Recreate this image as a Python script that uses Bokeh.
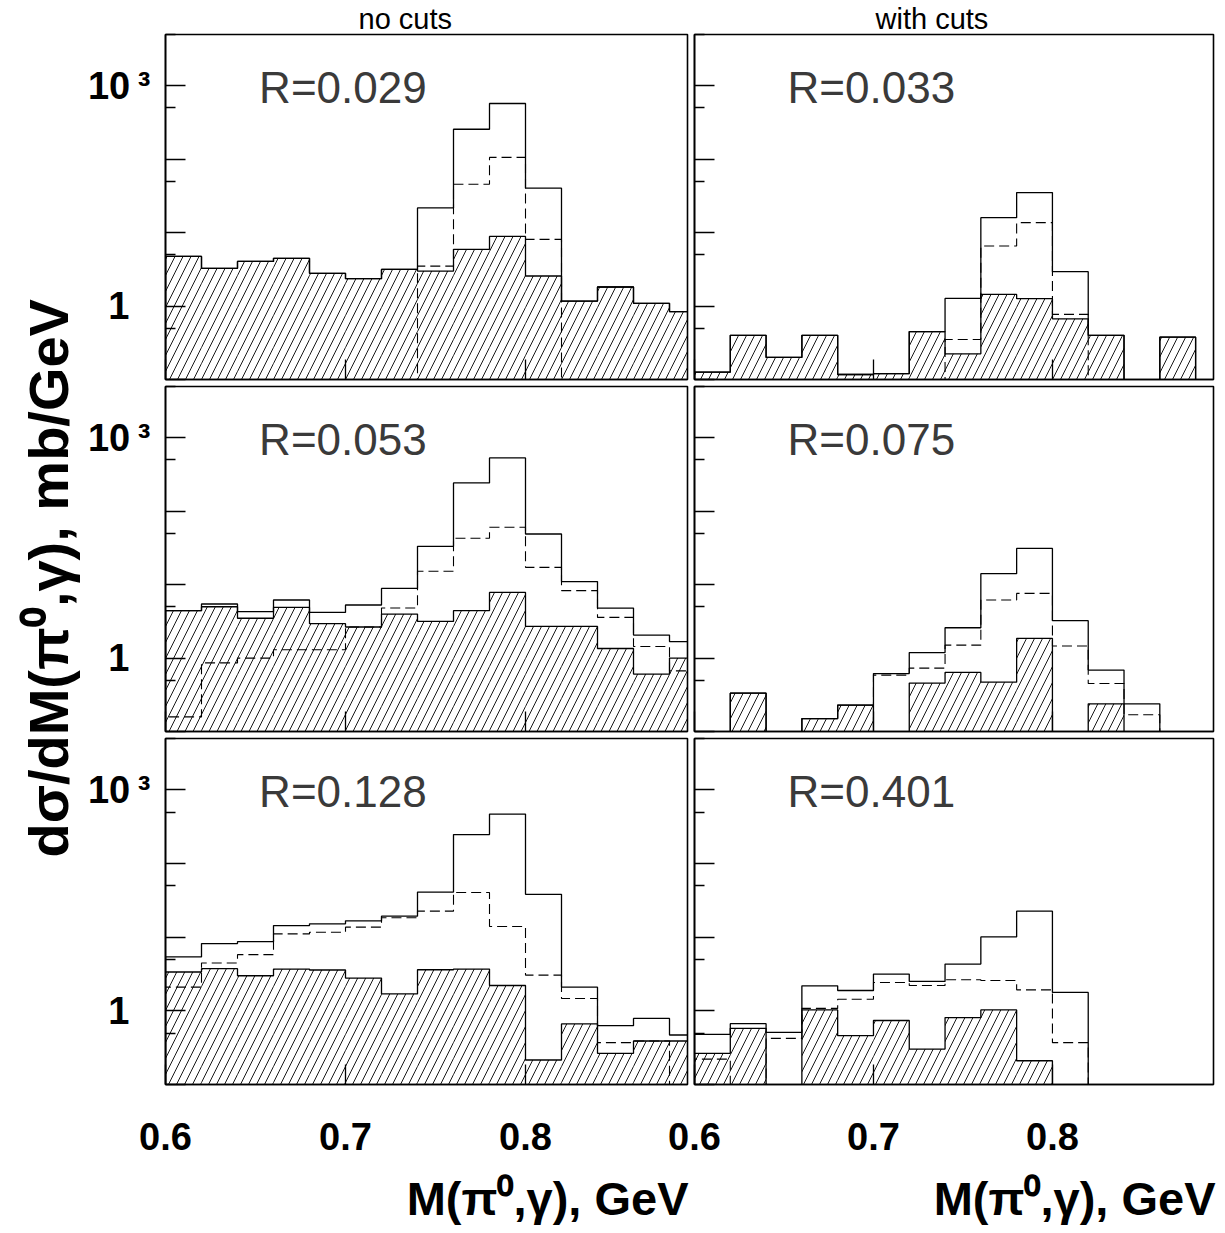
import math
from bokeh.plotting import figure
from bokeh.layouts import row as brow, column as bcol
from bokeh.models import FixedTicker, Label, Range1d, CustomLabelingPolicy
from bokeh.embed import file_html
from bokeh.resources import INLINE

# ---------------- data ----------------
bin_edges = [0.60, 0.62, 0.64, 0.66, 0.68, 0.70, 0.72, 0.74, 0.76, 0.78,
             0.80, 0.82, 0.84, 0.86, 0.88, 0.90]

x_ticks = [0.6, 0.7, 0.8]
y_ticks = [0.1, 1, 10, 100, 1000]
y_minor_ticks = [0.5, 5, 50, 500, 5000]
y_tick_labels = {0.1: ".", 1: "1\u00a0\u00a0", 10: ".", 100: ".", 1000: "10\u2009\u00b3"}
y_labelled_ticks = [1, 4]          # indices into y_ticks that carry a label

column_titles = ["no cuts", "with cuts"]
r_labels = [["R=0.029", "R=0.033"], ["R=0.053", "R=0.075"], ["R=0.128", "R=0.401"]]

# row 1
nocuts1_total = [4.75, 3.27, 4.06, 4.47, 2.79, 2.36, 3.16, 21.7, 256, 574, 40.3, 1.17, 1.82, 1.09, 0.84]
nocuts1_dashed = [0, 0, 0, 0, 0, 0, 0, 3.5, 45.6, 106, 8.1, 0, 0, 0, 0]
nocuts1_hatched = [4.75, 3.27, 4.06, 4.47, 2.79, 2.36, 3.16, 3.0, 5.93, 8.9, 2.57, 1.17, 1.82, 1.09, 0.84]

cuts1_total = [0.126, 0.40, 0.20, 0.40, 0.117, 0.12, 0.45, 1.27, 16.0, 35.1, 2.94, 0.40, 0, 0.377, 0]
cuts1_dashed = [0, 0, 0, 0, 0, 0, 0, 0.35, 6.58, 13.7, 0.77, 0, 0, 0, 0]
cuts1_hatched = [0.126, 0.40, 0.20, 0.40, 0.117, 0.12, 0.45, 0.224, 1.44, 1.26, 0.67, 0.40, 0, 0.377, 0]

# row 2
nocuts2_total = [4.42, 5.45, 4.28, 6.18, 4.19, 5.28, 8.9, 33.3, 243, 533, 49, 11.0, 4.8, 2.06, 1.68]
nocuts2_dashed = [0.158, 0.86, 1.0, 1.30, 1.30, 2.65, 4.8, 15.2, 42.8, 60.4, 17.2, 8.3, 3.58, 1.44, 0.67]
nocuts2_hatched = [4.42, 5.0, 3.49, 4.9, 2.94, 2.65, 3.98, 3.16, 4.42, 7.85, 2.7, 2.7, 1.35, 0.605, 1.0]

cuts2_total = [0, 0.333, 0, 0.15, 0.229, 0.616, 1.19, 2.59, 14.1, 31.2, 3.23, 0.686, 0.238, 0, 0]
cuts2_dashed = [0, 0, 0, 0, 0, 0.586, 0.73, 1.50, 6.18, 7.6, 1.46, 0.45, 0.169, 0, 0]
cuts2_hatched = [0, 0.333, 0, 0.15, 0.229, 0, 0.456, 0.637, 0.47, 1.85, 0, 0.238, 0, 0, 0]

# row 3
nocuts3_total = [5.4, 8.2, 8.7, 14.4, 15.2, 16.7, 19.3, 41.1, 248, 471, 38.2, 2.1, 0.63, 0.79, 0.47]
nocuts3_dashed = [2.1, 4.47, 5.8, 11.1, 11.7, 13.7, 18.4, 22.6, 40.6, 14.0, 3.06, 1.47, 0.37, 0.39, 0]
nocuts3_hatched = [3.37, 3.74, 3.0, 3.7, 3.59, 2.79, 1.7, 3.62, 3.7, 2.21, 0.215, 0.665, 0.265, 0.39, 0.39]

cuts3_total = [0.48, 0.671, 0.51, 2.19, 1.89, 3.16, 2.51, 4.32, 10.1, 22.6, 1.78, 0, 0, 0, 0]
cuts3_dashed = [0.221, 0, 0.423, 1.08, 1.44, 2.43, 2.21, 2.65, 2.59, 1.93, 0.37, 0, 0, 0, 0]
cuts3_hatched = [0.264, 0.579, 0, 1.03, 0.46, 0.74, 0.303, 0.81, 1.03, 0.21, 0, 0, 0, 0, 0]

panels = [
    [(nocuts1_total, nocuts1_dashed, nocuts1_hatched), (cuts1_total, cuts1_dashed, cuts1_hatched)],
    [(nocuts2_total, nocuts2_dashed, nocuts2_hatched), (cuts2_total, cuts2_dashed, cuts2_hatched)],
    [(nocuts3_total, nocuts3_dashed, nocuts3_hatched), (cuts3_total, cuts3_dashed, cuts3_hatched)],
]

x_title = "M(\u03c0\u2070,\u03b3), GeV"
y_title = "d\u03c3/dM(\u03c0\u2070,\u03b3), mb/GeV"

# ---------------- layout / style ----------------
X_MIN, X_MAX = 0.6, 0.89
Y_MIN, Y_MAX = 0.1, 5000
FLOOR = 1e-3
FONT = "Liberation Sans"

YT_W = 82                      # width of the strip holding the y title
OVERLAP = 30                   # right column canvases slide under the left ones
col_w = [609, 556]
col_border = [(83, 4), (33, 4)]
row_h = [383, 352, 435]
row_border = [(34, 3), (3, 3), (3, 86)]
XT_H = 62                      # strip holding the x titles
TOTAL_H = sum(row_h) + XT_H
title_offsets = [193, 181]
R_X, R_Y = 0.652, 950


def keep_policy(keep):
    return CustomLabelingPolicy(code="""
        const keep = %s;
        for (const i of indices) {
            if (!keep.includes(i)) indices.unset(i)
        }
        return indices
    """ % (list(keep),))


def step_xy(edges, vals):
    xs, ys = [edges[0]], [FLOOR]
    for i, v in enumerate(vals):
        vv = v if v > 0 else FLOOR
        xs += [edges[i], edges[i + 1]]
        ys += [vv, vv]
    xs.append(edges[-1])
    ys.append(FLOOR)
    return xs, ys


rows = []
for r in range(3):
    figs = []
    for c in range(2):
        total, dashed, hatched = panels[r][c]
        p = figure(width=col_w[c], height=row_h[r],
                   x_range=Range1d(X_MIN, X_MAX), y_range=Range1d(Y_MIN, Y_MAX),
                   y_axis_type="log", output_backend="svg", toolbar_location=None,
                   min_border_left=col_border[c][0], min_border_right=col_border[c][1],
                   min_border_top=row_border[r][0], min_border_bottom=row_border[r][1])
        p.grid.visible = False
        p.outline_line_color = "black"
        p.outline_line_width = 1.6
        p.background_fill_color = "white"
        if c == 0:
            p.border_fill_color = "white"
        else:
            p.border_fill_alpha = 0
            p.margin = (0, 0, 0, -OVERLAP)

        # hatched histogram
        lefts = [bin_edges[i] for i in range(len(hatched)) if hatched[i] > 0]
        rights = [bin_edges[i + 1] for i in range(len(hatched)) if hatched[i] > 0]
        tops = [h for h in hatched if h > 0]
        p.quad(left=lefts, right=rights, bottom=[FLOOR] * len(tops), top=tops,
               fill_alpha=0, line_alpha=0, hatch_pattern="/", hatch_scale=16,
               hatch_color="black", hatch_weight=0.9)
        hx, hy = step_xy(bin_edges, hatched)
        p.line(hx, hy, line_color="black", line_width=1.3)

        # dashed histogram
        dx, dy = step_xy(bin_edges, dashed)
        p.line(dx, dy, line_color="black", line_width=1.1, line_dash="10 5")

        # total histogram
        tx, ty = step_xy(bin_edges, total)
        p.line(tx, ty, line_color="black", line_width=1.3)

        # x axis
        xa = p.xaxis[0]
        xa.ticker = FixedTicker(ticks=x_ticks, minor_ticks=[])
        xa.major_tick_in = 20
        xa.major_tick_out = 0
        xa.minor_tick_in = 0
        xa.minor_tick_out = 0
        xa.axis_line_color = "black"
        xa.axis_line_width = 1.6
        xa.major_tick_line_width = 1.3
        if r == 2:
            xa.major_label_text_font = FONT
            xa.major_label_text_font_style = "bold"
            xa.major_label_text_font_size = "38px"
            xa.major_label_text_color = "black"
            xa.major_label_standoff = 38
        else:
            xa.major_label_policy = keep_policy([])
            xa.major_label_text_font_size = "1px"
            xa.major_label_standoff = 0

        # y axis
        ya = p.yaxis[0]
        ya.ticker = FixedTicker(ticks=y_ticks, minor_ticks=y_minor_ticks)
        ya.major_tick_in = 20
        ya.major_tick_out = 0
        ya.minor_tick_in = 10
        ya.minor_tick_out = 0
        ya.axis_line_color = "black"
        ya.axis_line_width = 1.6
        ya.major_tick_line_width = 1.3
        ya.minor_tick_line_width = 1.3
        ya.major_label_overrides = y_tick_labels
        if c == 0:
            ya.major_label_policy = keep_policy(y_labelled_ticks)
            ya.major_label_text_font = FONT
            ya.major_label_text_font_style = "bold"
            ya.major_label_text_font_size = "38px"
            ya.major_label_text_color = "black"
            ya.major_label_standoff = 15
        else:
            ya.major_label_policy = keep_policy([])
            ya.major_label_text_font_size = "1px"
            ya.major_label_standoff = 0

        # R value
        p.add_layout(Label(x=R_X, y=R_Y, text=r_labels[r][c], text_font=FONT,
                           text_font_size="44px", text_color="#3a3a3a",
                           text_baseline="alphabetic", text_align="left"))
        # column title
        if r == 0:
            p.title.text = column_titles[c]
            p.title.align = "left"
            p.title.offset = title_offsets[c]
            p.title.standoff = 0
            p.title.text_font = FONT
            p.title.text_font_style = "normal"
            p.title.text_font_size = "29px"
            p.title.text_color = "black"
        figs.append(p)
    rows.append(brow(*figs))

# strip holding the two x titles (right aligned to each column)
xt_w = col_w[0] + col_w[1] - OVERLAP
xt = figure(width=xt_w, height=XT_H, x_range=Range1d(0, xt_w), y_range=Range1d(0, XT_H),
            x_axis_location=None, y_axis_location=None, toolbar_location=None,
            output_backend="svg", min_border=0)
xt.outline_line_color = None
xt.grid.visible = False
xt.background_fill_color = "white"
xt.border_fill_color = "white"
for right_edge in (col_w[0] - col_border[0][1] + 1, xt_w - 2):
    xt.add_layout(Label(x=right_edge, y=34, text=x_title, text_font=FONT,
                        text_font_style="bold", text_font_size="47px", text_color="black",
                        text_baseline="alphabetic", text_align="right"))

# strip holding the common y title
yt = figure(width=YT_W, height=TOTAL_H, x_range=Range1d(0, 1), y_range=Range1d(0, 1),
            x_axis_location=None, y_axis_location=None, toolbar_location=None,
            output_backend="svg", min_border=0)
yt.outline_line_color = None
yt.grid.visible = False
yt.background_fill_color = "white"
yt.border_fill_color = "white"
yt.add_layout(Label(x=0.585, y=0.531, text=y_title, text_font=FONT,
                    text_font_style="bold", text_font_size="56px", text_color="black",
                    text_baseline="middle", text_align="center", angle=math.pi / 2))

layout = brow(yt, bcol(*rows, xt))
open("out.html", "w").write(file_html(layout, INLINE))
